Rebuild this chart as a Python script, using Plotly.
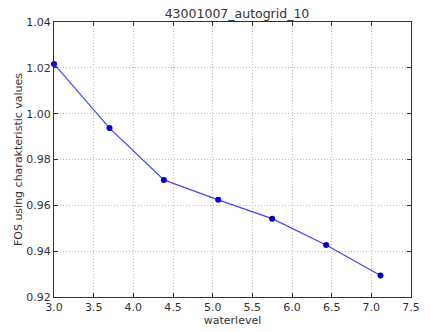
import plotly.graph_objects as go

# FOS results per water level
waterlevel = [3.0, 3.70, 4.385, 5.07, 5.75, 6.43, 7.115]
fos_values = [1.0217, 0.9937, 0.9711, 0.9624, 0.9542, 0.9427, 0.9294]

x_ticks = [3.0, 3.5, 4.0, 4.5, 5.0, 5.5, 6.0, 6.5, 7.0, 7.5]
y_ticks = [0.92, 0.94, 0.96, 0.98, 1.00, 1.02, 1.04]

fig = go.Figure()
fig.add_trace(go.Scatter(
    x=waterlevel, y=fos_values, mode="lines+markers",
    line=dict(color="rgb(70,70,245)", width=1.2),
    marker=dict(color="rgb(0,0,205)", size=6),
    cliponaxis=False,
))

axis_common = dict(
    showline=True, linecolor="#333", linewidth=1, mirror="ticks",
    ticks="inside", ticklen=4, tickcolor="#333",
    showgrid=True, gridcolor="#bdbdbd", griddash="1px,2px", gridwidth=1,
    zeroline=False, tickfont=dict(size=11, color="#333"),
)

fig.update_layout(
    width=430, height=332,
    margin=dict(l=54, r=10, t=22, b=26),
    paper_bgcolor="white", plot_bgcolor="white",
    font=dict(family="DejaVu Sans", color="#333"),
    showlegend=False,
    title=dict(text="43001007_autogrid_10", x=(54 + 420) / 2 / 430, xanchor="center",
               y=1 - 14 / 332, yanchor="middle", font=dict(size=12.5)),
    xaxis=dict(range=[3.0, 7.5], tickvals=x_ticks,
               ticktext=[f"{v:.1f}" for v in x_ticks],
               title=dict(text="waterlevel", font=dict(size=11), standoff=0),
               **axis_common),
    yaxis=dict(range=[0.92, 1.04], tickvals=y_ticks,
               ticktext=[f"{v:.2f}" for v in y_ticks],
               title=dict(text="FOS using charakteristic values", font=dict(size=11), standoff=1),
               **axis_common),
)

fig.write_html("out.html")
